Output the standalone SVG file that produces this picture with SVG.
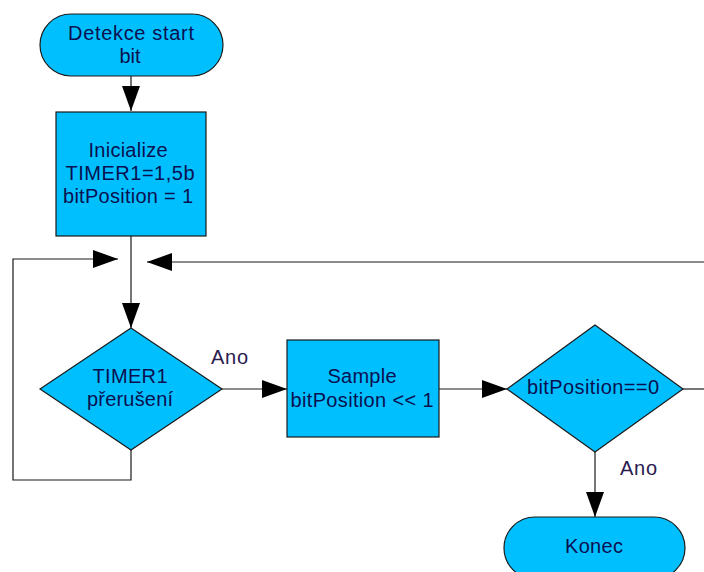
<svg xmlns="http://www.w3.org/2000/svg" width="704" height="572" viewBox="0 0 704 572">
  <style>
    .shape { fill: #00BFFF; stroke: #1a1a1a; stroke-width: 1.2; }
    .edge { fill: none; stroke: #1a1a1a; stroke-width: 1.2; }
    .lbl { font-family: "Liberation Sans", Arial, sans-serif; font-size: 20px; fill: #0a1050; text-anchor: middle; }
    .note { font-family: "Liberation Sans", Arial, sans-serif; font-size: 20px; fill: #2a1a50; }
  </style>
  <defs>
    <marker id="arrow" markerUnits="userSpaceOnUse" markerWidth="26" markerHeight="20" refX="25" refY="10" orient="auto">
      <path d="M0,1 L25,10 L0,19 z" fill="#000"/>
    </marker>
  </defs>
  <rect width="704" height="572" fill="#fff"/>

  <!-- connectors -->
  <g id="connectors">
    <line class="edge" x1="131" y1="76" x2="131" y2="111" marker-end="url(#arrow)"/>
    <line class="edge" x1="131" y1="236" x2="131" y2="328" marker-end="url(#arrow)"/>
    <polyline class="edge" points="131,450 131,480 13,480 13,259 118,259" marker-end="url(#arrow)"/>
    <line class="edge" x1="704" y1="262" x2="147" y2="262" marker-end="url(#arrow)"/>
    <line class="edge" x1="222" y1="389" x2="287" y2="389" marker-end="url(#arrow)"/>
    <line class="edge" x1="439" y1="389" x2="507" y2="389" marker-end="url(#arrow)"/>
    <line class="edge" x1="683" y1="389" x2="704" y2="389"/>
    <line class="edge" x1="595" y1="452" x2="595" y2="517" marker-end="url(#arrow)"/>
    <text class="note" x="211" y="364" textLength="37" lengthAdjust="spacing">Ano</text>
    <text class="note" x="620" y="475" textLength="37" lengthAdjust="spacing">Ano</text>
  </g>

  <!-- start terminator -->
  <g id="start">
    <rect class="shape" x="40" y="14" width="183" height="62" rx="31" ry="31"/>
    <text class="lbl" x="131" y="40" textLength="126" lengthAdjust="spacing">Detekce start</text>
    <text class="lbl" x="130" y="63">bit</text>
  </g>

  <!-- initialisation -->
  <g id="init">
    <rect class="shape" x="56" y="112" width="150" height="124"/>
    <text class="lbl" x="128" y="157" textLength="79" lengthAdjust="spacing">Inicialize</text>
    <text class="lbl" x="130" y="180" textLength="129" lengthAdjust="spacing">TIMER1=1,5b</text>
    <text class="lbl" x="128" y="203" textLength="130" lengthAdjust="spacing">bitPosition = 1</text>
  </g>

  <!-- timer interrupt decision -->
  <g id="timer">
    <polygon class="shape" points="131,328 222,389 131,450 40,389"/>
    <text class="lbl" x="130" y="383" textLength="75" lengthAdjust="spacing">TIMER1</text>
    <text class="lbl" x="130" y="406" textLength="86" lengthAdjust="spacing">přerušení</text>
  </g>

  <!-- sampling step -->
  <g id="sample">
    <rect class="shape" x="287" y="340" width="152" height="97"/>
    <text class="lbl" x="362" y="383" textLength="69" lengthAdjust="spacing">Sample</text>
    <text class="lbl" x="362" y="407" textLength="143" lengthAdjust="spacing">bitPosition &lt;&lt; 1</text>
  </g>

  <!-- position check decision -->
  <g id="check">
    <polygon class="shape" points="595,325 683,389 595,452 507,389"/>
    <text class="lbl" x="593" y="394" textLength="132" lengthAdjust="spacing">bitPosition==0</text>
  </g>

  <!-- end terminator -->
  <g id="end">
    <rect class="shape" x="504" y="517" width="181" height="62" rx="31" ry="31"/>
    <text class="lbl" x="594" y="553" textLength="58" lengthAdjust="spacing">Konec</text>
  </g>
</svg>
